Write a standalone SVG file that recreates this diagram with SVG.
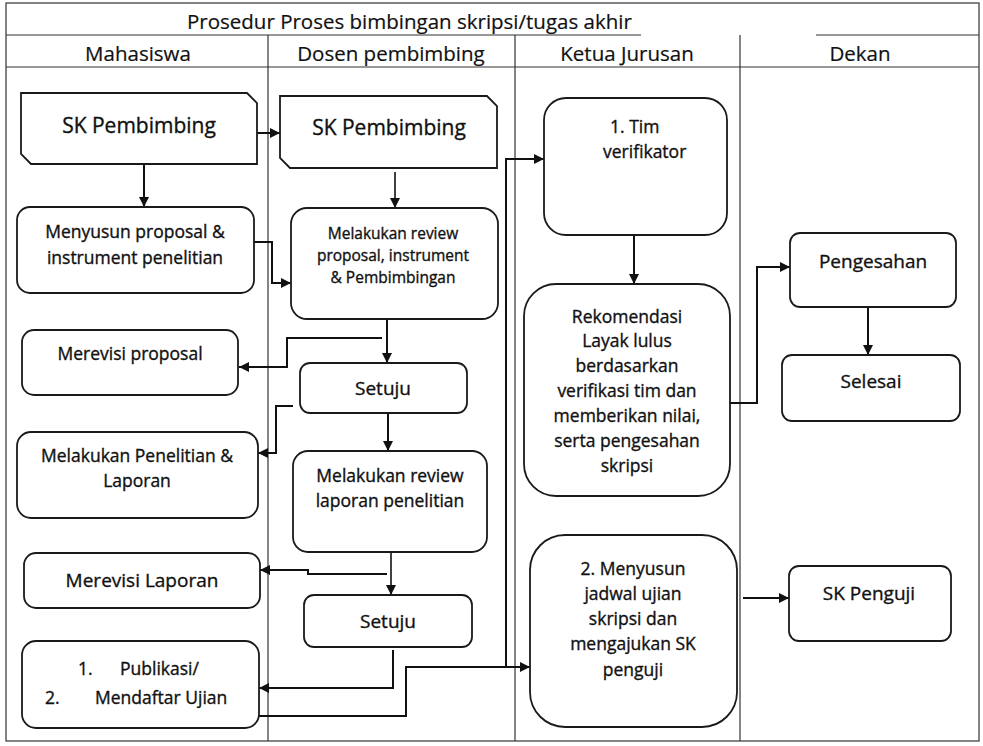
<svg xmlns="http://www.w3.org/2000/svg" width="983" height="746" viewBox="0 0 983 746">
<defs>
<style>
.frame{fill:none;stroke:#333;stroke-width:1.2}
.box{fill:#fff;stroke:#1a1a1a;stroke-width:1.8}
.t{font-family:"Open Sans","Noto Sans","Liberation Sans",sans-serif;fill:#111;stroke:#111;stroke-width:0.35;text-anchor:middle}
.ts{font-family:"Open Sans","Noto Sans","Liberation Sans",sans-serif;fill:#111;stroke:#111;stroke-width:0.35}
.hd{font-size:20.5px;stroke-width:0.2}
.b{font-size:17.5px}
.m{font-size:19px}
.s{font-size:15.5px}
.l{font-size:21px}
.c{fill:none;stroke:#111;stroke-width:2}
</style>
<marker id="ah" markerUnits="userSpaceOnUse" markerWidth="11" markerHeight="11" refX="10" refY="5" orient="auto">
<path d="M0,0 L10,5 L0,10 Z" fill="#111"/>
</marker>
</defs>
<rect width="983" height="746" fill="#fff"/>
<g id="frame">
<rect class="frame" x="6" y="3" width="973" height="738"/>
<line class="frame" x1="6" y1="35" x2="641" y2="35"/>
<line class="frame" x1="816" y1="35" x2="979" y2="35"/>
<line class="frame" x1="6" y1="67" x2="979" y2="67"/>
<line class="frame" x1="268" y1="35" x2="268" y2="741"/>
<line class="frame" x1="515" y1="35" x2="515" y2="741"/>
<line class="frame" x1="740" y1="35" x2="740" y2="741"/>
<text class="ts hd" x="187" y="29">Prosedur Proses bimbingan skripsi/tugas akhir</text>
<text class="t hd" x="138" y="61">Mahasiswa</text>
<text class="t hd" x="391" y="61">Dosen pembimbing</text>
<text class="t hd" x="627" y="61">Ketua Jurusan</text>
<text class="t hd" x="860" y="61">Dekan</text>
</g>
<g id="connectors">
<path class="c" d="M257,133 H280" marker-end="url(#ah)"/>
<path class="c" d="M144,164 V207" marker-end="url(#ah)"/>
<path class="c" d="M395,172 V208" marker-end="url(#ah)" style="stroke-width:1.6"/>
<path class="c" d="M254,242 H272 V283 H291" marker-end="url(#ah)"/>
<path class="c" d="M387,320 V363" marker-end="url(#ah)"/>
<path class="c" d="M382,338 H287 V367 H239" marker-end="url(#ah)"/>
<path class="c" d="M293,406 H276 V453 H258" marker-end="url(#ah)"/>
<path class="c" d="M388,413 V451" marker-end="url(#ah)"/>
<path class="c" d="M391,552 V595" marker-end="url(#ah)" style="stroke-width:1.6"/>
<path class="c" d="M387,574 H308 V570 H260" marker-end="url(#ah)"/>
<path class="c" d="M393,650 V688 H259" marker-end="url(#ah)"/>
<path class="c" d="M258,716 H406 V667 H530" marker-end="url(#ah)"/>
<path class="c" d="M506,667 V159 H544" marker-end="url(#ah)"/>
<path class="c" d="M634,235 V284" marker-end="url(#ah)"/>
<path class="c" d="M723,403 H757 V267 H790" marker-end="url(#ah)"/>
<path class="c" d="M868,307 V355" marker-end="url(#ah)"/>
<path class="c" d="M743,598 H789" marker-end="url(#ah)"/>
</g>
<g id="sk-mhs">
<path class="box" d="M21,93 H247 L257,103 V164 H31 L21,154 Z"/>
<text class="t l" x="139" y="133">SK Pembimbing</text>
</g>
<g id="sk-dosen">
<path class="box" d="M280,96 H487 L497,106 V168 H290 L280,158 Z"/>
<text class="t l" x="389" y="135">SK Pembimbing</text>
</g>
<g id="menyusun-proposal">
<rect class="box" x="17" y="207" width="237" height="86" rx="13"/>
<text class="t b" x="135" y="238">Menyusun proposal &amp;</text>
<text class="t b" x="135" y="264">instrument penelitian</text>
</g>
<g id="review-proposal">
<rect class="box" x="291" y="208" width="207" height="111" rx="16"/>
<text class="t s" x="393" y="239">Melakukan review</text>
<text class="t s" x="393" y="261">proposal, instrument</text>
<text class="t s" x="393" y="283">&amp; Pembimbingan</text>
</g>
<g id="merevisi-proposal">
<rect class="box" x="22" y="330" width="216" height="65" rx="12"/>
<text class="t b" x="130" y="360">Merevisi proposal</text>
</g>
<g id="setuju-1">
<rect class="box" x="300" y="363" width="167" height="50" rx="10"/>
<text class="t m" x="383" y="395">Setuju</text>
</g>
<g id="penelitian">
<rect class="box" x="17" y="432" width="241" height="86" rx="14"/>
<text class="t b" x="137" y="462">Melakukan Penelitian &amp;</text>
<text class="t b" x="137" y="487">Laporan</text>
</g>
<g id="review-laporan">
<rect class="box" x="293" y="451" width="194" height="101" rx="15"/>
<text class="t b" x="390" y="482">Melakukan review</text>
<text class="t b" x="390" y="507">laporan penelitian</text>
</g>
<g id="merevisi-laporan">
<rect class="box" x="24" y="553" width="236" height="55" rx="12"/>
<text class="t m" x="142" y="587">Merevisi Laporan</text>
</g>
<g id="setuju-2">
<rect class="box" x="304" y="595" width="168" height="52" rx="10"/>
<text class="t m" x="388" y="628">Setuju</text>
</g>
<g id="publikasi">
<rect class="box" x="22" y="641" width="237" height="87" rx="14"/>
<text class="ts b" x="78" y="675">1.</text>
<text class="ts b" x="120" y="675">Publikasi/</text>
<text class="ts b" x="45" y="704">2.</text>
<text class="ts b" x="95" y="704">Mendaftar Ujian</text>
</g>
<g id="tim-verifikator">
<rect class="box" x="544" y="98" width="183" height="137" rx="22"/>
<text class="ts b" x="610" y="133">1. Tim</text>
<text class="ts b" x="603" y="158">verifikator</text>
</g>
<g id="rekomendasi">
<rect class="box" x="524" y="284" width="206" height="212" rx="32"/>
<text class="t b" x="627" y="323">Rekomendasi</text>
<text class="t b" x="627" y="347">Layak lulus</text>
<text class="t b" x="627" y="372">berdasarkan</text>
<text class="t b" x="627" y="397">verifikasi tim dan</text>
<text class="t b" x="627" y="422">memberikan nilai,</text>
<text class="t b" x="627" y="447">serta pengesahan</text>
<text class="t b" x="627" y="472">skripsi</text>
</g>
<g id="jadwal-ujian">
<rect class="box" x="530" y="535" width="207" height="192" rx="35"/>
<text class="t b" x="633" y="575">2. Menyusun</text>
<text class="t b" x="633" y="600">jadwal ujian</text>
<text class="t b" x="633" y="625">skripsi dan</text>
<text class="t b" x="633" y="650">mengajukan SK</text>
<text class="t b" x="633" y="676">penguji</text>
</g>
<g id="pengesahan">
<rect class="box" x="790" y="233" width="166" height="74" rx="10"/>
<text class="t m" x="873" y="268">Pengesahan</text>
</g>
<g id="selesai">
<rect class="box" x="782" y="355" width="178" height="66" rx="10"/>
<text class="t m" x="871" y="388">Selesai</text>
</g>
<g id="sk-penguji">
<rect class="box" x="789" y="566" width="162" height="75" rx="10"/>
<text class="t m" x="869" y="600">SK Penguji</text>
</g>
</svg>
